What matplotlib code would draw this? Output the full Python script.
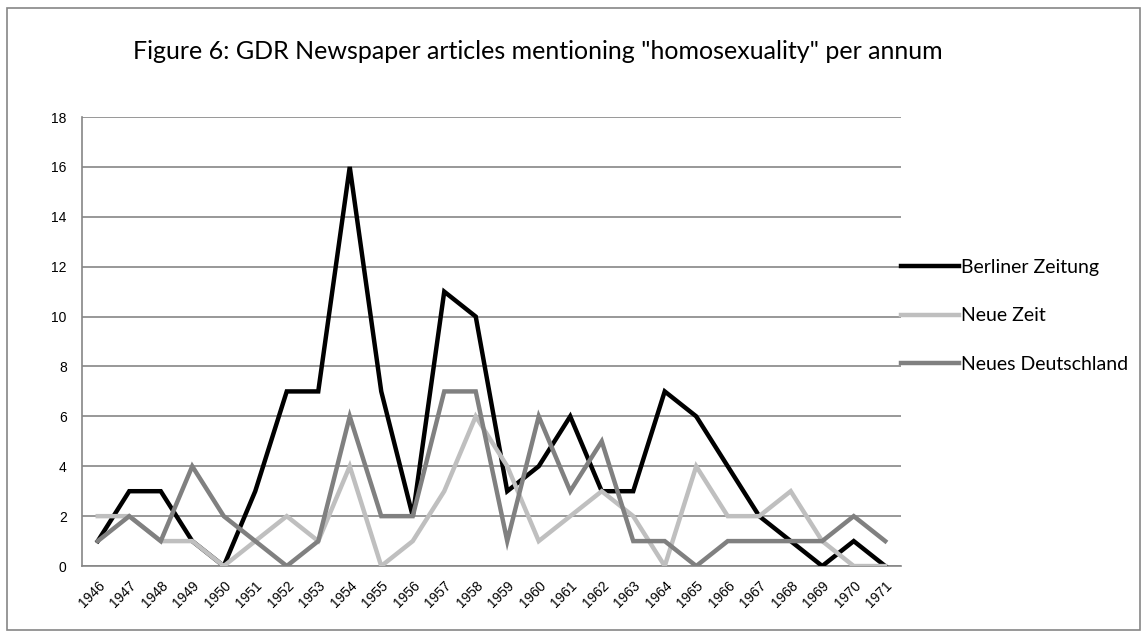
import matplotlib.pyplot as plt
from matplotlib.patches import Rectangle

years = list(range(1946, 1972))
berliner = [1, 3, 3, 1, 0, 3, 7, 7, 16, 7, 2, 11, 10, 3, 4, 6, 3, 3, 7, 6, 4, 2, 1, 0, 1, 0]
neue_zeit = [2, 2, 1, 1, 0, 1, 2, 1, 4, 0, 1, 3, 6, 4, 1, 2, 3, 2, 0, 4, 2, 2, 3, 1, 0, 0]
neues_dtl = [1, 2, 1, 4, 2, 1, 0, 1, 6, 2, 2, 7, 7, 1, 6, 3, 5, 1, 1, 0, 1, 1, 1, 1, 2, 1]

plt.rcParams['font.family'] = ['Liberation Sans', 'DejaVu Sans']

fig = plt.figure(figsize=(11.47, 6.36), dpi=100)
ax = fig.add_axes([0.0715, 0.110, 0.714, 0.706])

x = list(range(len(years)))
ax.plot(x, berliner, color="black", lw=3.2, solid_joinstyle="miter", label="Berliner Zeitung", zorder=3)
ax.plot(x, neue_zeit, color="#BFBFBF", lw=3.2, solid_joinstyle="miter", label="Neue Zeit", zorder=3)
ax.plot(x, neues_dtl, color="#808080", lw=3.2, solid_joinstyle="miter", label="Neues Deutschland", zorder=3)

ax.set_xlim(-0.5, len(years) - 0.5)
ax.set_ylim(0, 18)
ax.set_yticks(range(0, 19, 2))
ax.set_xticks(x)
ax.set_xticklabels([str(y) for y in years], rotation=45, ha="right", va="top",
                   rotation_mode="anchor", fontsize=10)
ax.tick_params(axis="y", labelsize=10, length=0, pad=11)
ax.tick_params(axis="x", length=0, pad=9)
ax.yaxis.grid(True, color="#868686", lw=1.2)
ax.set_axisbelow(True)
for s in ["top", "right"]:
    ax.spines[s].set_visible(False)
ax.spines["left"].set_color("#868686")
ax.spines["bottom"].set_color("#868686")
ax.spines["left"].set_linewidth(1.2)
ax.spines["bottom"].set_linewidth(1.2)

fig.text(0.469, 0.919, 'Figure 6: GDR Newspaper articles mentioning "homosexuality" per annum',
         ha="center", va="center", fontsize=18, family=["Lato", "DejaVu Sans"])

leg = ax.legend(loc="center left", bbox_to_anchor=(1.0, 0.557), frameon=False,
                borderaxespad=0, borderpad=0,
                handlelength=3.0, handletextpad=0.1, labelspacing=1.62,
                prop={"family": ["Lato", "DejaVu Sans"], "size": 14})

fig.patches.append(Rectangle((0.006, 0.009), 0.988, 0.978, transform=fig.transFigure,
                             fill=False, edgecolor="#868686", lw=1.2))

fig.savefig("out.png", dpi=100)
